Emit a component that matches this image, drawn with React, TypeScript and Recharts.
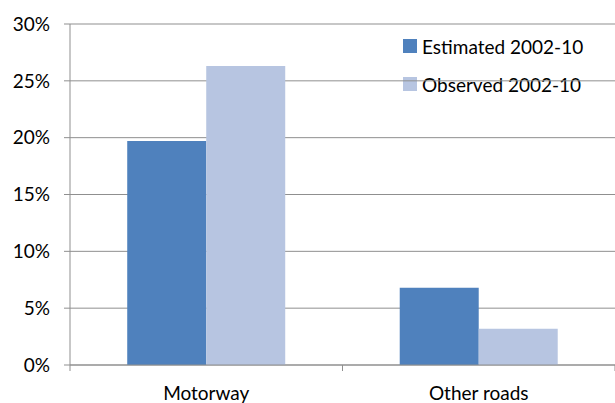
import React from "react";
import { BarChart, Bar, XAxis, YAxis, CartesianGrid, Legend } from "recharts";

// Share of accidents by road type, 2002-10
const roadTypes = ["Motorway", "Other roads"];
const estimated = [0.197, 0.068];
const observed = [0.263, 0.032];
const yTicks = [0, 0.05, 0.1, 0.15, 0.2, 0.25, 0.3];

const seriesNames = { estimated: "Estimated 2002-10", observed: "Observed 2002-10" };
const colors = { estimated: "#4f81bd", observed: "#b7c5e1" };

const data = roadTypes.map((road, i) => ({
  road,
  estimated: estimated[i],
  observed: observed[i],
}));

const W = 615;
const H = 403;
const LEFT = 70;
const TOP = 24;
const XAXIS_H = 38;
const FONT = "Lato, 'Open Sans', sans-serif";
const FONT_SIZE = 19;
const GRID = "#8f8f8f";
const HALF_BAND = (W - LEFT) / roadTypes.length / 2;

const pct = (v: number) => `${Math.round(v * 100)}%`;

function CategoryTick(props: any) {
  const { x, payload, index } = props;
  const axisY = H - XAXIS_H;
  const last = index === roadTypes.length - 1;
  return (
    <g>
      <line x1={x - HALF_BAND} x2={x - HALF_BAND} y1={axisY} y2={axisY + 6} stroke={GRID} />
      {last && (
        <line x1={x + HALF_BAND} x2={x + HALF_BAND} y1={axisY} y2={axisY + 6} stroke={GRID} />
      )}
      <text
        x={x}
        y={axisY + 22}
        dy="0.71em"
        textAnchor="middle"
        fill="#000"
        fontSize={FONT_SIZE}
        fontFamily={FONT}
      >
        {payload.value}
      </text>
    </g>
  );
}

function LegendBox() {
  const items = [
    { key: "estimated", label: seriesNames.estimated, color: colors.estimated },
    { key: "observed", label: seriesNames.observed, color: colors.observed },
  ];
  return (
    <div style={{ fontFamily: FONT, fontSize: FONT_SIZE, color: "#000" }}>
      {items.map((it) => (
        <div key={it.key} style={{ display: "flex", alignItems: "center", height: 38 }}>
          <span
            style={{
              display: "inline-block",
              width: 14,
              height: 14,
              background: it.color,
              marginRight: 5,
            }}
          />
          <span>{it.label}</span>
        </div>
      ))}
    </div>
  );
}

export default function App() {
  return (
    <div style={{ position: "absolute", left: 0, top: 0, width: W, height: H }}>
      <BarChart
        width={W}
        height={H}
        data={data}
        margin={{ top: TOP, right: 0, bottom: 0, left: 0 }}
        barCategoryGap="21%"
        barGap={0}
      >
        <CartesianGrid vertical={false} stroke={GRID} strokeWidth={1} />
        <XAxis
          dataKey="road"
          height={XAXIS_H}
          axisLine={{ stroke: GRID }}
          tickLine={false}
          tick={<CategoryTick />}
          interval={0}
        />
        <YAxis
          width={LEFT}
          domain={[0, 0.3]}
          ticks={yTicks}
          tickFormatter={pct}
          axisLine={{ stroke: GRID }}
          tickLine={{ stroke: GRID }}
          tickSize={6}
          tickMargin={14}
          tick={{ fill: "#000", fontSize: FONT_SIZE, fontFamily: FONT }}
        />
        <Legend
          layout="vertical"
          align="center"
          verticalAlign="middle"
          content={<LegendBox />}
          wrapperStyle={{ position: "absolute", left: 403, top: 27, width: 210, zIndex: -1 }}
        />
        <Bar dataKey="estimated" name={seriesNames.estimated} fill={colors.estimated} isAnimationActive={false} />
        <Bar dataKey="observed" name={seriesNames.observed} fill={colors.observed} isAnimationActive={false} />
      </BarChart>
    </div>
  );
}
